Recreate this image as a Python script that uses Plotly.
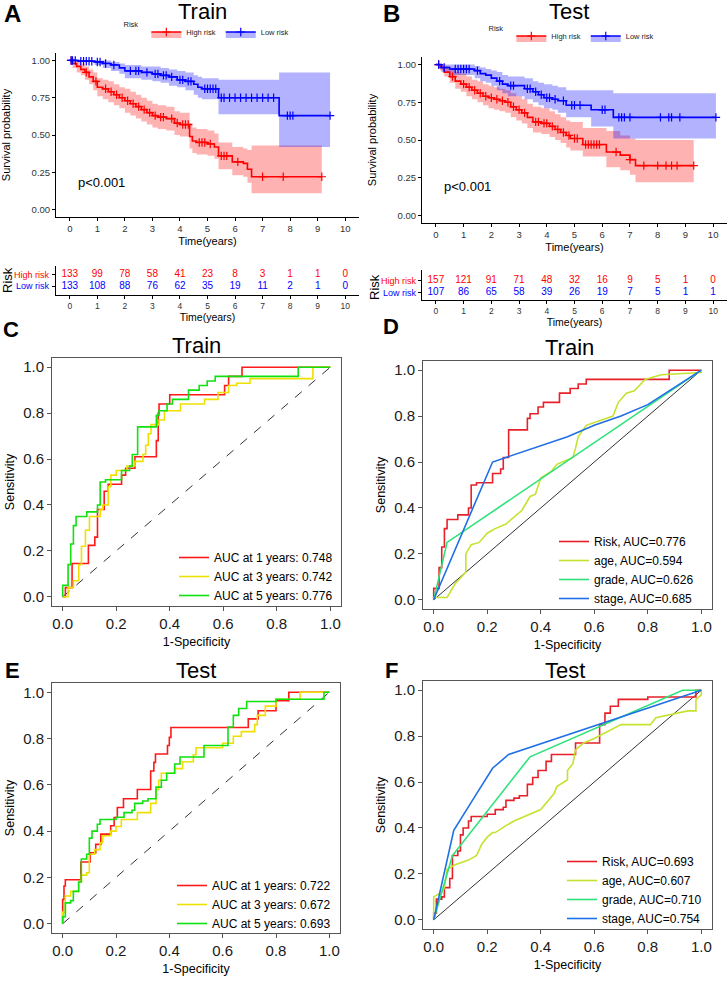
import numpy as np
import plotly.graph_objects as go

W, H = 728, 981
FONT = "Liberation Sans, Arial, sans-serif"

years = list(range(11))

# ---- Kaplan-Meier, training set ----
tr_high_t = [0, 0.1, 0.25, 0.4, 0.55, 0.7, 0.85, 1.0, 1.2, 1.4, 1.6, 1.8, 2.0, 2.2, 2.4, 2.6, 2.8, 3.0,
             3.2, 3.5, 3.8, 4.0, 4.35, 4.45, 4.6, 5.0, 5.25, 5.4, 5.9, 6.3, 6.45, 6.6]
tr_high_s = [1.0, 0.98, 0.96, 0.94, 0.92, 0.89, 0.86, 0.82, 0.81, 0.79, 0.77, 0.75, 0.73, 0.71, 0.69, 0.67,
             0.65, 0.63, 0.62, 0.61, 0.58, 0.57, 0.49, 0.46, 0.45, 0.44, 0.42, 0.36, 0.32, 0.31, 0.27, 0.22]
tr_high_hi = [1.0, 1.0, 0.99, 0.98, 0.96, 0.94, 0.92, 0.88, 0.87, 0.86, 0.84, 0.82, 0.81, 0.79, 0.77, 0.75,
              0.73, 0.71, 0.70, 0.69, 0.66, 0.65, 0.58, 0.55, 0.54, 0.53, 0.51, 0.45, 0.42, 0.41, 0.40, 0.43]
tr_high_lo = [1.0, 0.95, 0.92, 0.90, 0.87, 0.84, 0.80, 0.76, 0.74, 0.72, 0.70, 0.68, 0.65, 0.63, 0.61, 0.59,
              0.57, 0.55, 0.54, 0.53, 0.50, 0.49, 0.41, 0.38, 0.37, 0.36, 0.34, 0.27, 0.23, 0.22, 0.18, 0.11]
tr_high_end = 9.15
tr_high_cens = [0.05, 0.6, 0.95, 1.3, 1.5, 1.7, 1.9, 2.1, 2.3, 2.5, 2.7, 2.9, 3.1, 3.3, 3.4, 3.7, 3.9, 4.1,
                4.2, 4.3, 4.7, 4.8, 4.9, 5.1, 5.5, 5.6, 5.7, 6.1, 7.0, 7.75, 9.15]

tr_low_t = [0, 0.3, 0.9, 1.2, 1.5, 1.8, 2.0, 2.6, 3.0, 3.3, 3.6, 3.9, 4.2, 4.5, 4.65, 4.8, 5.4, 7.6]
tr_low_s = [1.0, 0.995, 0.99, 0.98, 0.97, 0.95, 0.93, 0.92, 0.91, 0.90, 0.89, 0.87, 0.86, 0.84, 0.82, 0.81,
            0.75, 0.63]
tr_low_hi = [1.0, 1.0, 1.0, 1.0, 0.99, 0.98, 0.97, 0.96, 0.96, 0.95, 0.94, 0.93, 0.92, 0.90, 0.89, 0.88,
             0.87, 0.92]
tr_low_lo = [1.0, 0.99, 0.97, 0.95, 0.93, 0.91, 0.88, 0.87, 0.86, 0.85, 0.83, 0.82, 0.80, 0.77, 0.75, 0.74,
             0.64, 0.42]
tr_low_end = 9.45
tr_low_cens = [0.05, 0.1, 0.2, 0.4, 0.5, 0.6, 0.7, 0.8, 1.0, 1.1, 1.3, 1.6, 2.2, 2.4, 2.5, 2.8, 3.1, 3.2,
               3.4, 3.5, 3.7, 4.0, 4.1, 4.3, 4.4, 4.9, 5.0, 5.1, 5.2, 5.3, 5.5, 5.6, 5.8, 6.0, 6.2, 6.4,
               6.6, 6.8, 7.0, 7.2, 7.4, 7.9, 8.0, 8.1, 9.45]

tr_high_n = [133, 99, 78, 58, 41, 23, 8, 3, 1, 1, 0]
tr_low_n = [133, 108, 88, 76, 62, 35, 19, 11, 2, 1, 0]

# ---- Kaplan-Meier, test set ----
te_high_t = [0, 0.15, 0.3, 0.5, 0.7, 0.9, 1.1, 1.3, 1.5, 1.7, 1.9, 2.1, 2.3, 2.5, 2.7, 2.9, 3.1, 3.3, 3.5,
             3.8, 4.1, 4.3, 4.5, 4.7, 4.85, 5.3, 6.15, 6.65, 7.0, 7.2]
te_high_s = [1.0, 0.98, 0.95, 0.92, 0.89, 0.87, 0.85, 0.83, 0.81, 0.79, 0.78, 0.77, 0.76, 0.75, 0.72, 0.70,
             0.68, 0.65, 0.62, 0.61, 0.59, 0.57, 0.55, 0.53, 0.51, 0.47, 0.42, 0.40, 0.37, 0.33]
te_high_hi = [1.0, 1.0, 0.99, 0.97, 0.95, 0.94, 0.92, 0.90, 0.89, 0.87, 0.86, 0.85, 0.84, 0.83, 0.81, 0.79,
              0.77, 0.74, 0.72, 0.71, 0.69, 0.67, 0.65, 0.63, 0.62, 0.58, 0.56, 0.53, 0.51, 0.50]
te_high_lo = [1.0, 0.96, 0.92, 0.88, 0.84, 0.82, 0.79, 0.77, 0.75, 0.73, 0.71, 0.70, 0.69, 0.68, 0.65, 0.63,
              0.61, 0.58, 0.55, 0.54, 0.52, 0.50, 0.48, 0.45, 0.43, 0.39, 0.32, 0.30, 0.27, 0.22]
te_high_end = 9.3
te_high_cens = [0.1, 0.6, 1.0, 1.2, 1.4, 1.6, 1.8, 2.0, 2.2, 2.4, 2.6, 2.8, 3.0, 3.2, 3.6, 3.7, 3.9, 4.0,
                4.2, 4.4, 4.6, 4.8, 5.0, 5.1, 5.4, 5.5, 5.6, 5.7, 5.8, 5.9, 6.5, 7.0, 7.5, 8.0, 8.3, 8.5,
                8.7, 9.3]

te_low_t = [0, 0.2, 0.5, 1.4, 1.6, 1.8, 2.0, 2.2, 2.4, 2.6, 3.2, 3.5, 3.7, 3.9, 4.2, 4.4, 4.7, 5.6, 6.4]
te_low_s = [1.0, 0.98, 0.97, 0.96, 0.94, 0.93, 0.91, 0.89, 0.87, 0.86, 0.84, 0.82, 0.80, 0.78, 0.77, 0.76,
            0.73, 0.70, 0.65]
te_low_hi = [1.0, 1.0, 1.0, 0.99, 0.98, 0.97, 0.96, 0.95, 0.93, 0.92, 0.91, 0.89, 0.88, 0.87, 0.86, 0.85,
             0.83, 0.83, 0.81]
te_low_lo = [1.0, 0.95, 0.93, 0.91, 0.89, 0.88, 0.86, 0.83, 0.81, 0.79, 0.77, 0.75, 0.73, 0.71, 0.70, 0.68,
             0.65, 0.59, 0.51]
te_low_end = 10.1
te_low_cens = [0.1, 0.3, 0.7, 0.8, 0.9, 1.0, 1.1, 1.2, 1.5, 2.3, 2.7, 2.8, 3.3, 3.4, 3.6, 3.8, 4.0, 4.1,
               4.3, 4.6, 4.9, 5.0, 5.2, 6.0, 6.1, 6.6, 6.7, 6.8, 7.0, 8.1, 8.4, 8.5, 8.8, 10.1]

te_high_n = [157, 121, 91, 71, 48, 32, 16, 9, 5, 1, 0]
te_low_n = [107, 86, 65, 58, 39, 26, 19, 7, 5, 1, 1]

# ---- ROC, training set (time dependent) ----
c1_fpr = [0, 0.01, 0.035, 0.096, 0.12, 0.13, 0.155, 0.17, 0.22, 0.235, 0.27, 0.35, 0.357, 0.36, 0.40,
          0.605, 0.62, 0.67, 1.0]
c1_tpr = [0, 0.04, 0.145, 0.224, 0.26, 0.38, 0.46, 0.49, 0.53, 0.56, 0.61, 0.68, 0.80, 0.84, 0.88,
          0.92, 0.96, 1.0, 1.0]
c3_fpr = [0, 0.02, 0.04, 0.06, 0.07, 0.085, 0.1, 0.14, 0.15, 0.17, 0.18, 0.2, 0.24, 0.27, 0.3, 0.31,
          0.32, 0.33, 0.36, 0.38, 0.44, 0.53, 0.58, 0.62, 0.65, 0.70, 0.935, 1.0]
c3_tpr = [0, 0.04, 0.07, 0.14, 0.22, 0.29, 0.35, 0.38, 0.40, 0.48, 0.53, 0.55, 0.57, 0.59, 0.62, 0.66,
          0.71, 0.75, 0.77, 0.81, 0.84, 0.86, 0.89, 0.92, 0.93, 0.95, 1.0, 1.0]
c5_fpr = [0, 0.0, 0.02, 0.02, 0.03, 0.04, 0.05, 0.09, 0.10, 0.13, 0.14, 0.16, 0.22, 0.25, 0.26, 0.28,
          0.35, 0.36, 0.39, 0.41, 0.47, 0.51, 0.54, 0.57, 0.88, 1.0]
c5_tpr = [0, 0.05, 0.05, 0.14, 0.23, 0.31, 0.35, 0.37, 0.37, 0.40, 0.50, 0.51, 0.55, 0.57, 0.62, 0.74,
          0.79, 0.81, 0.84, 0.86, 0.90, 0.92, 0.94, 0.96, 1.0, 1.0]
c_labels = ["AUC at 1 years: 0.748", "AUC at 3 years: 0.742", "AUC at 5 years: 0.776"]

# ---- ROC, training set (clinical) ----
d_age_fpr = [0, 0.0, 0.05, 0.07, 0.08, 0.12, 0.12, 0.14, 0.17, 0.20, 0.23, 0.27, 0.30, 0.33, 0.36, 0.38,
             0.40, 0.44, 0.46, 0.52, 0.53, 0.54, 0.57, 0.62, 0.67, 0.69, 0.72, 0.75, 0.79, 0.85, 1.0, 1.0]
d_age_tpr = [0, 0.01, 0.01, 0.05, 0.07, 0.12, 0.20, 0.24, 0.25, 0.29, 0.31, 0.33, 0.36, 0.39, 0.45, 0.46,
             0.53, 0.56, 0.59, 0.62, 0.66, 0.71, 0.76, 0.78, 0.80, 0.86, 0.90, 0.91, 0.96, 0.98, 0.99, 1.0]
d_grade_fpr = [0, 0.05, 1.0]
d_grade_tpr = [0, 0.25, 1.0]
d_stage_fpr = [0, 0.22, 0.27, 0.4, 0.5, 0.6, 0.7, 0.8, 1.0]
d_stage_tpr = [0, 0.60, 0.62, 0.67, 0.71, 0.76, 0.80, 0.85, 1.0]
d_labels = ["Risk, AUC=0.776", "age, AUC=0.594", "grade, AUC=0.626", "stage, AUC=0.685"]

# ---- ROC, test set (time dependent) ----
e1_fpr = [0, 0.0, 0.005, 0.01, 0.062, 0.068, 0.103, 0.124, 0.143, 0.178, 0.18, 0.193, 0.205, 0.228, 0.28,
          0.33, 0.342, 0.348, 0.393, 0.40, 0.406, 0.696, 0.733, 0.80, 0.848, 1.0]
e1_tpr = [0, 0.105, 0.163, 0.19, 0.19, 0.267, 0.307, 0.343, 0.387, 0.387, 0.423, 0.459, 0.502, 0.54, 0.58,
          0.66, 0.697, 0.733, 0.77, 0.805, 0.848, 0.885, 0.92, 0.964, 1.0, 1.0]
e3_fpr = [0, 0.0, 0.01, 0.03, 0.05, 0.06, 0.07, 0.09, 0.10, 0.10, 0.12, 0.14, 0.15, 0.18, 0.20, 0.22,
          0.27, 0.28, 0.31, 0.33, 0.35, 0.36, 0.37, 0.42, 0.45, 0.49, 0.50, 0.60, 0.64, 0.67, 0.72, 0.73,
          0.76, 0.80, 0.89, 1.0]
e3_tpr = [0, 0.05, 0.12, 0.14, 0.14, 0.18, 0.21, 0.22, 0.26, 0.30, 0.32, 0.35, 0.38, 0.40, 0.42, 0.45,
          0.45, 0.48, 0.48, 0.52, 0.58, 0.62, 0.65, 0.67, 0.70, 0.73, 0.76, 0.78, 0.81, 0.83, 0.86, 0.90,
          0.94, 0.97, 1.0, 1.0]
e5_fpr = [0, 0.0, 0.01, 0.03, 0.04, 0.06, 0.07, 0.09, 0.10, 0.11, 0.13, 0.14, 0.19, 0.20, 0.23, 0.26,
          0.27, 0.30, 0.32, 0.35, 0.37, 0.39, 0.42, 0.44, 0.53, 0.62, 0.62, 0.64, 0.66, 0.69, 0.80, 0.98, 1.0]
e5_tpr = [0, 0.03, 0.09, 0.10, 0.14, 0.18, 0.28, 0.30, 0.37, 0.40, 0.43, 0.45, 0.45, 0.46, 0.48, 0.49,
          0.52, 0.53, 0.54, 0.59, 0.62, 0.65, 0.69, 0.72, 0.77, 0.77, 0.85, 0.90, 0.93, 0.96, 0.97, 1.0, 1.0]
e_labels = ["AUC at 1 years: 0.722", "AUC at 3 years: 0.672", "AUC at 5 years: 0.693"]

# ---- ROC, test set (clinical) ----
f_age_fpr = [0, 0.0, 0.03, 0.04, 0.05, 0.08, 0.13, 0.16, 0.18, 0.20, 0.22, 0.23, 0.27, 0.30, 0.40, 0.42,
             0.45, 0.46, 0.50, 0.50, 0.52, 0.53, 0.56, 0.60, 0.70, 0.81, 0.83, 0.95, 0.98, 0.98, 1.0, 1.0]
f_age_tpr = [0, 0.10, 0.12, 0.14, 0.22, 0.24, 0.26, 0.28, 0.33, 0.36, 0.38, 0.38, 0.41, 0.43, 0.48, 0.51,
             0.55, 0.58, 0.61, 0.65, 0.68, 0.74, 0.77, 0.79, 0.85, 0.85, 0.88, 0.91, 0.91, 0.96, 0.98, 1.0]
f_grade_fpr = [0, 0.07, 0.36, 0.93, 1.0]
f_grade_tpr = [0, 0.28, 0.71, 1.0, 1.0]
f_stage_fpr = [0, 0.075, 0.15, 0.22, 0.28, 1.0]
f_stage_tpr = [0, 0.39, 0.53, 0.66, 0.72, 1.0]
f_labels = ["Risk, AUC=0.693", "age, AUC=0.607", "grade, AUC=0.710", "stage, AUC=0.754"]

RED, BLUE = "#FF0000", "#0000FF"
PINK, LBLUE = "rgba(255,0,0,0.3)", "rgba(0,0,255,0.3)"
TIME_COLS = ["#FF1A1A", "#EEE000", "#11E011"]
CLIN_COLS = ["#E8202A", "#C6E22E", "#2EE27A", "#1F6FE6"]


def px(v):
    return v / W


def py(v):
    return 1 - v / H


fig = go.Figure()


def add_km(groups, xa, ya, leg):
    # confidence bands first so curves sit on top
    for t, s, lo, hi, t_end, cens, col, band, name in groups:
        tx = t + [t_end]
        fig.add_trace(go.Scatter(x=tx, y=lo + [lo[-1]], mode="lines", line=dict(width=0, shape="hv"),
                                 showlegend=False, hoverinfo="skip", xaxis=xa, yaxis=ya))
        fig.add_trace(go.Scatter(x=tx, y=hi + [hi[-1]], mode="lines", line=dict(width=0, shape="hv"),
                                 fill="tonexty", fillcolor=band, showlegend=False, hoverinfo="skip",
                                 xaxis=xa, yaxis=ya))
    for t, s, lo, hi, t_end, cens, col, band, name in groups:
        fig.add_trace(go.Scatter(x=t + [t_end], y=s + [s[-1]], mode="lines",
                                 line=dict(color=col, width=1.6, shape="hv"), showlegend=False,
                                 xaxis=xa, yaxis=ya))
        idx = np.searchsorted(t, cens, side="right") - 1
        fig.add_trace(go.Scatter(x=cens, y=np.array(s)[idx], mode="markers",
                                 marker=dict(symbol="cross-thin", size=6, line=dict(width=1.2, color=col)),
                                 showlegend=False, xaxis=xa, yaxis=ya))
    for t, s, lo, hi, t_end, cens, col, band, name in groups:
        fig.add_trace(go.Scatter(x=[None], y=[None], mode="lines+markers", name=name, fill="toself",
                                 fillcolor=band, line=dict(color=col, width=1.6),
                                 marker=dict(symbol="cross-thin", size=6, line=dict(width=1.2, color=col)),
                                 legend=leg, xaxis=xa, yaxis=ya))


def add_table(high_n, low_n, xa, ya):
    fig.add_trace(go.Scatter(x=years, y=[1] * len(years), mode="text", text=[str(n) for n in high_n],
                             textfont=dict(color=RED, size=10), showlegend=False, xaxis=xa, yaxis=ya))
    fig.add_trace(go.Scatter(x=years, y=[0] * len(years), mode="text", text=[str(n) for n in low_n],
                             textfont=dict(color=BLUE, size=10), showlegend=False, xaxis=xa, yaxis=ya))


def add_roc(curves, labels, colors, shapes, xa, ya, leg):
    for (fx, ty), lab, col, shp in zip(curves, labels, colors, shapes):
        fig.add_trace(go.Scatter(x=fx, y=ty, mode="lines", name=lab,
                                 line=dict(color=col, width=1.6, shape=shp),
                                 legend=leg, xaxis=xa, yaxis=ya))


add_km([(tr_high_t, tr_high_s, tr_high_lo, tr_high_hi, tr_high_end, tr_high_cens, RED, PINK, "High risk"),
        (tr_low_t, tr_low_s, tr_low_lo, tr_low_hi, tr_low_end, tr_low_cens, BLUE, LBLUE, "Low risk")],
       "x", "y", "legend")
add_table(tr_high_n, tr_low_n, "x2", "y2")
add_km([(te_high_t, te_high_s, te_high_lo, te_high_hi, te_high_end, te_high_cens, RED, PINK, "High risk"),
        (te_low_t, te_low_s, te_low_lo, te_low_hi, te_low_end, te_low_cens, BLUE, LBLUE, "Low risk")],
       "x3", "y3", "legend2")
add_table(te_high_n, te_low_n, "x4", "y4")

add_roc([(c1_fpr, c1_tpr), (c3_fpr, c3_tpr), (c5_fpr, c5_tpr)], c_labels, TIME_COLS,
        ["hv"] * 3, "x5", "y5", "legend3")
add_roc([(c5_fpr, c5_tpr), (d_age_fpr, d_age_tpr), (d_grade_fpr, d_grade_tpr), (d_stage_fpr, d_stage_tpr)],
        d_labels, CLIN_COLS, ["hv", "linear", "linear", "linear"], "x6", "y6", "legend4")
add_roc([(e1_fpr, e1_tpr), (e3_fpr, e3_tpr), (e5_fpr, e5_tpr)], e_labels, TIME_COLS,
        ["hv"] * 3, "x7", "y7", "legend5")
add_roc([(e5_fpr, e5_tpr), (f_age_fpr, f_age_tpr), (f_grade_fpr, f_grade_tpr), (f_stage_fpr, f_stage_tpr)],
        f_labels, CLIN_COLS, ["hv", "linear", "linear", "linear"], "x8", "y8", "legend6")

# axis styles
km_x = dict(range=[-0.5, 10.5], tickvals=years, ticks="outside", ticklen=3, tickcolor="black",
            showline=True, linecolor="black", linewidth=1, showgrid=False, zeroline=False,
            tickfont=dict(size=9.5, color="#333"))
km_y = dict(range=[-0.05, 1.05], tickvals=[0, 0.25, 0.5, 0.75, 1.0], tickformat=".2f", ticks="outside",
            ticklen=3, tickcolor="black", showline=True, linecolor="black", linewidth=1, showgrid=False,
            zeroline=False, tickfont=dict(size=9.5, color="#333"))
tab_y = dict(tickvals=[0, 1], showticklabels=False, ticks="outside", ticklen=3, tickcolor="black",
             showline=True, linecolor="black", linewidth=1, showgrid=False, zeroline=False)
roc_ax = dict(range=[-0.04, 1.04], tickvals=[0, 0.2, 0.4, 0.6, 0.8, 1.0], tickformat=".1f",
              showline=True, mirror=True, linecolor="#555", linewidth=1, ticks="outside", ticklen=4,
              tickcolor="#555", showgrid=False, zeroline=False, tickfont=dict(size=15, color="#1a1a1a"))


def ttl(text, size, standoff):
    return dict(text=text, font=dict(size=size, color="black"), standoff=standoff)


def roc_axes(x0, x1, top, bottom, xa, ya):
    return {
        xa: dict(roc_ax, domain=[px(x0), px(x1)], anchor=ya.replace("axis", ""),
                 title=ttl("1-Specificity", 12.5, 6)),
        ya: dict(roc_ax, domain=[py(bottom), py(top)], anchor=xa.replace("axis", ""),
                 title=ttl("Sensitivity", 12.5, 5)),
    }


layout_axes = {
    "xaxis": dict(km_x, domain=[px(56), px(359)], anchor="y", title=ttl("Time(years)", 11, 3)),
    "yaxis": dict(km_y, domain=[py(217), py(53)], anchor="x", title=ttl("Survival probability", 11, 18)),
    "xaxis2": dict(km_x, domain=[px(56), px(359)], anchor="y2", title=ttl("Time(years)", 10.5, 2),
                   tickfont=dict(size=8.5, color="#333")),
    "yaxis2": dict(tab_y, domain=[py(295), py(266)], range=[-0.8, 1.8], anchor="x2"),
    "xaxis3": dict(km_x, domain=[px(422), px(727)], anchor="y3", title=ttl("Time(years)", 11, 3)),
    "yaxis3": dict(km_y, domain=[py(223), py(57)], anchor="x3", title=ttl("Survival probability", 11, 18)),
    "xaxis4": dict(km_x, domain=[px(422), px(727)], anchor="y4", title=ttl("Time(years)", 10.5, 2),
                   tickfont=dict(size=8.5, color="#333")),
    "yaxis4": dict(tab_y, domain=[py(300), py(270)], range=[-0.6, 1.9], anchor="x4"),
}
layout_axes.update(roc_axes(52, 341, 358, 606, "xaxis5", "yaxis5"))
layout_axes.update(roc_axes(423, 712, 361, 609, "xaxis6", "yaxis6"))
layout_axes.update(roc_axes(52, 340, 683, 933, "xaxis7", "yaxis7"))
layout_axes.update(roc_axes(423, 712, 681, 929, "xaxis8", "yaxis8"))

# reference diagonals
shapes = []
for n, dash in [(5, "dash"), (6, "solid"), (7, "dash"), (8, "solid")]:
    shapes.append(dict(type="line", xref=f"x{n}", yref=f"y{n}", x0=0, y0=0, x1=1, y1=1,
                       line=dict(color="#333", width=1, dash=dash), layer="below"))


def note(text, x, y, size, color="black", **kw):
    base = dict(text=text, x=px(x), y=py(y), xref="paper", yref="paper", showarrow=False,
                xanchor="center", yanchor="middle", font=dict(size=size, color=color))
    base.update(kw)
    return base


annotations = []
for txt, x, y, size in [("A", 12, 13, 24), ("B", 391, 13, 24), ("C", 11, 329, 22),
                        ("D", 391, 327, 22), ("E", 12, 670, 22), ("F", 391, 670, 22)]:
    annotations.append(note(f"<b>{txt}</b>", x, y, size))
for txt, x, y in [("Train", 202, 12), ("Test", 569, 11), ("Train", 196, 345), ("Train", 569, 347),
                  ("Test", 196, 670), ("Test", 565, 670)]:
    annotations.append(note(txt, x, y, 22))
# p-values
for xa, ya, y in [("x", "y", 0.18), ("x3", "y3", 0.19)]:
    annotations.append(dict(text="p<0.001", x=0.22, y=y, xref=xa, yref=ya, xanchor="left",
                            yanchor="middle", showarrow=False, font=dict(size=13, color="black")))
# risk table row labels
for x, yh, yl, yr in [(52, 275, 286, 280), (419, 281, 293, 287)]:
    annotations.append(note("High risk", x, yh, 9, RED, xanchor="right"))
    annotations.append(note("Low risk", x, yl, 9, BLUE, xanchor="right"))
    annotations.append(note("Risk", x - 45, yr, 13, textangle=-90))

km_leg = dict(orientation="h", xanchor="center", yanchor="middle", font=dict(size=7.5, color="#222"),
              title=dict(text="Risk", side="left", font=dict(size=7.5, color="#222")),
              itemwidth=30, bgcolor="rgba(0,0,0,0)", traceorder="normal")
roc_leg = dict(xanchor="left", yanchor="bottom", font=dict(size=12, color="black"), itemwidth=30,
               bgcolor="rgba(0,0,0,0)", tracegroupgap=0, traceorder="normal")

fig.update_layout(
    template="none",
    width=W, height=H, autosize=False,
    margin=dict(l=0, r=0, t=0, b=0),
    paper_bgcolor="white", plot_bgcolor="white",
    font=dict(family=FONT, color="black"),
    legend=dict(km_leg, x=px(208), y=py(32)),
    legend2=dict(km_leg, x=px(573), y=py(36)),
    legend3=dict(roc_leg, x=px(174), y=py(610)),
    legend4=dict(roc_leg, x=px(554), y=py(613)),
    legend5=dict(roc_leg, x=px(172), y=py(938)),
    legend6=dict(roc_leg, x=px(562), y=py(933)),
    shapes=shapes,
    annotations=annotations,
    **layout_axes,
)

# drop the default page margin so the figure fills the window
fig.write_html("out.html", config={"displayModeBar": False},
               post_script="document.body.style.margin = '0';")
